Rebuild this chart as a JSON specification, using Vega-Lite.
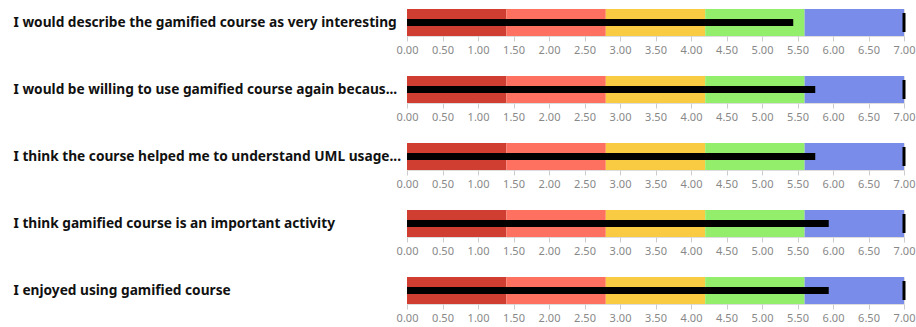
{
  "$schema": "https://vega.github.io/schema/vega-lite/v6.json",
  "background": "white",
  "padding": {"left": 12, "top": 8, "right": 5, "bottom": 5},
  "data": {"values": [
    {"question": "I would describe the gamified course as very interesting", "order": 1, "kind": "range", "band": 1, "start": 0, "end": 1.4},
    {"question": "I would describe the gamified course as very interesting", "order": 1, "kind": "range", "band": 2, "start": 1.4, "end": 2.8},
    {"question": "I would describe the gamified course as very interesting", "order": 1, "kind": "range", "band": 3, "start": 2.8, "end": 4.2},
    {"question": "I would describe the gamified course as very interesting", "order": 1, "kind": "range", "band": 4, "start": 4.2, "end": 5.6},
    {"question": "I would describe the gamified course as very interesting", "order": 1, "kind": "range", "band": 5, "start": 5.6, "end": 7.0},
    {"question": "I would describe the gamified course as very interesting", "order": 1, "kind": "measure", "value": 5.44},
    {"question": "I would describe the gamified course as very interesting", "order": 1, "kind": "target", "value": 7.0},
    {"question": "I would be willing to use gamified course again becaus...", "order": 2, "kind": "range", "band": 1, "start": 0, "end": 1.4},
    {"question": "I would be willing to use gamified course again becaus...", "order": 2, "kind": "range", "band": 2, "start": 1.4, "end": 2.8},
    {"question": "I would be willing to use gamified course again becaus...", "order": 2, "kind": "range", "band": 3, "start": 2.8, "end": 4.2},
    {"question": "I would be willing to use gamified course again becaus...", "order": 2, "kind": "range", "band": 4, "start": 4.2, "end": 5.6},
    {"question": "I would be willing to use gamified course again becaus...", "order": 2, "kind": "range", "band": 5, "start": 5.6, "end": 7.0},
    {"question": "I would be willing to use gamified course again becaus...", "order": 2, "kind": "measure", "value": 5.75},
    {"question": "I would be willing to use gamified course again becaus...", "order": 2, "kind": "target", "value": 7.0},
    {"question": "I think the course helped me to understand UML usage...", "order": 3, "kind": "range", "band": 1, "start": 0, "end": 1.4},
    {"question": "I think the course helped me to understand UML usage...", "order": 3, "kind": "range", "band": 2, "start": 1.4, "end": 2.8},
    {"question": "I think the course helped me to understand UML usage...", "order": 3, "kind": "range", "band": 3, "start": 2.8, "end": 4.2},
    {"question": "I think the course helped me to understand UML usage...", "order": 3, "kind": "range", "band": 4, "start": 4.2, "end": 5.6},
    {"question": "I think the course helped me to understand UML usage...", "order": 3, "kind": "range", "band": 5, "start": 5.6, "end": 7.0},
    {"question": "I think the course helped me to understand UML usage...", "order": 3, "kind": "measure", "value": 5.75},
    {"question": "I think the course helped me to understand UML usage...", "order": 3, "kind": "target", "value": 7.0},
    {"question": "I think gamified course is an important activity", "order": 4, "kind": "range", "band": 1, "start": 0, "end": 1.4},
    {"question": "I think gamified course is an important activity", "order": 4, "kind": "range", "band": 2, "start": 1.4, "end": 2.8},
    {"question": "I think gamified course is an important activity", "order": 4, "kind": "range", "band": 3, "start": 2.8, "end": 4.2},
    {"question": "I think gamified course is an important activity", "order": 4, "kind": "range", "band": 4, "start": 4.2, "end": 5.6},
    {"question": "I think gamified course is an important activity", "order": 4, "kind": "range", "band": 5, "start": 5.6, "end": 7.0},
    {"question": "I think gamified course is an important activity", "order": 4, "kind": "measure", "value": 5.94},
    {"question": "I think gamified course is an important activity", "order": 4, "kind": "target", "value": 7.0},
    {"question": "I enjoyed using gamified course", "order": 5, "kind": "range", "band": 1, "start": 0, "end": 1.4},
    {"question": "I enjoyed using gamified course", "order": 5, "kind": "range", "band": 2, "start": 1.4, "end": 2.8},
    {"question": "I enjoyed using gamified course", "order": 5, "kind": "range", "band": 3, "start": 2.8, "end": 4.2},
    {"question": "I enjoyed using gamified course", "order": 5, "kind": "range", "band": 4, "start": 4.2, "end": 5.6},
    {"question": "I enjoyed using gamified course", "order": 5, "kind": "range", "band": 5, "start": 5.6, "end": 7.0},
    {"question": "I enjoyed using gamified course", "order": 5, "kind": "measure", "value": 5.94},
    {"question": "I enjoyed using gamified course", "order": 5, "kind": "target", "value": 7.0}
  ]},
  "facet": {
    "row": {
      "field": "question",
      "type": "nominal",
      "sort": {"field": "order", "op": "min"},
      "header": {"title": null, "labels": false}
    }
  },
  "spacing": 19,
  "resolve": {"scale": {"y": "independent"}, "axis": {"x": "independent", "y": "independent"}},
  "spec": {
    "width": 497,
    "height": 27,
    "encoding": {
      "y": {
        "field": "question", "type": "nominal", "scale": {"padding": 0},
        "axis": {
          "title": null,
          "ticks": false,
          "domain": false,
          "labelAlign": "left",
          "labelPadding": 394,
          "labelLimit": 394,
          "labelFont": "Noto Sans",
          "labelFontWeight": "bold",
          "labelFontSize": 13.7,
          "labelColor": "#111111"
        }
      },
      "x": {
        "field": "value", "type": "quantitative",
        "scale": {"domain": [0, 7], "nice": false},
        "axis": {
          "title": null,
          "values": [0, 0.5, 1, 1.5, 2, 2.5, 3, 3.5, 4, 4.5, 5, 5.5, 6, 6.5, 7],
          "format": ".2f",
          "domain": false,
          "grid": false,
          "tickColor": "#cccccc",
          "tickSize": 5,
          "labelColor": "#888888",
          "labelFont": "Noto Sans",
          "labelFontSize": 11,
          "labelPadding": 3,
          "labelFlush": false,
          "labelOverlap": false
        }
      }
    },
    "layer": [
      {
        "transform": [{"filter": "datum.kind === 'range'"}],
        "mark": {"type": "bar"},
        "encoding": {
          "x": {
            "field": "start", "type": "quantitative",
            "scale": {"domain": [0, 7], "nice": false},
            "axis": {
              "title": null,
              "values": [0, 0.5, 1, 1.5, 2, 2.5, 3, 3.5, 4, 4.5, 5, 5.5, 6, 6.5, 7],
              "format": ".2f",
              "domain": false,
              "grid": false,
              "tickColor": "#cccccc",
              "tickSize": 5,
              "labelColor": "#888888",
              "labelFont": "Noto Sans",
              "labelFontSize": 11,
              "labelPadding": 3,
              "labelFlush": false,
              "labelOverlap": false
            }
          },
          "x2": {"field": "end"},
          "color": {
            "field": "band", "type": "ordinal", "legend": null,
            "scale": {"domain": [1, 2, 3, 4, 5], "range": ["#D03E32", "#FE705F", "#F9CB42", "#93EF6B", "#7A8CE9"]}
          }
        }
      },
      {
        "transform": [{"filter": "datum.kind === 'measure'"}],
        "mark": {"type": "bar", "size": 7, "color": "#000000"}
      },
      {
        "transform": [{"filter": "datum.kind === 'target'"}],
        "mark": {"type": "tick", "thickness": 3, "size": 19, "color": "#000000", "opacity": 1}
      }
    ]
  }
}
